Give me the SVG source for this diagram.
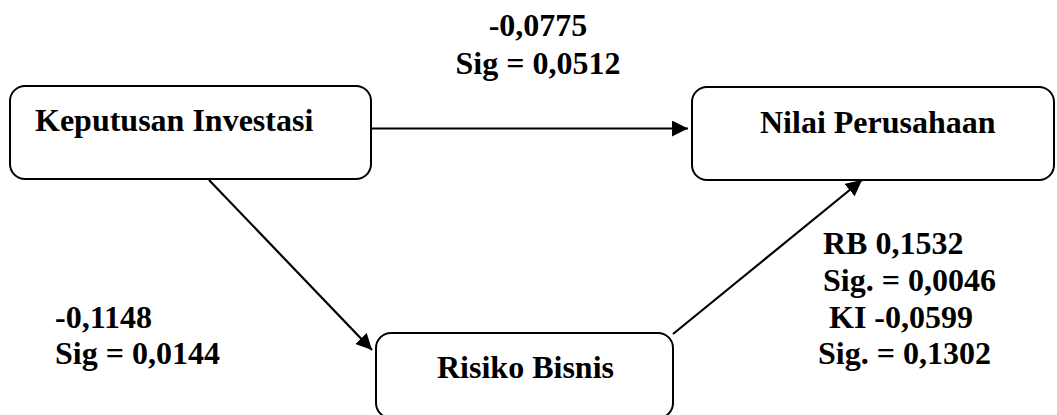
<svg xmlns="http://www.w3.org/2000/svg" width="1057" height="415" viewBox="0 0 1057 415">
  <style>
    .box { fill: #ffffff; stroke: #000000; stroke-width: 2; }
    .lbl { font-family: "Liberation Serif", "Times New Roman", serif; font-weight: bold; font-size: 32px; fill: #000000; }
    .edge { stroke: #000000; stroke-width: 2.2; fill: none; marker-end: url(#arrow); }
  </style>
  <defs>
    <marker id="arrow" markerWidth="16" markerHeight="16" viewBox="0 0 16 16" refX="16" refY="8" orient="auto" markerUnits="userSpaceOnUse">
      <path d="M0,0 L16,8 L0,16 Z" fill="#000000"/>
    </marker>
  </defs>

  <rect width="1057" height="415" fill="#ffffff"/>

  <g id="connectors">
    <line class="edge" x1="372" y1="128.5" x2="688" y2="128.5"/>
    <line class="edge" x1="209" y1="180" x2="372" y2="350"/>
    <line class="edge" x1="673" y1="334" x2="862" y2="180"/>
  </g>

  <g id="keputusan-investasi">
    <rect class="box" x="10" y="86" width="361" height="93" rx="15" ry="15"/>
    <text class="lbl" x="35" y="131">Keputusan Investasi</text>
  </g>

  <g id="nilai-perusahaan">
    <rect class="box" x="692" y="87" width="362" height="93" rx="15" ry="15"/>
    <text class="lbl" x="760" y="133">Nilai Perusahaan</text>
  </g>

  <g id="risiko-bisnis">
    <rect class="box" x="376" y="333" width="297" height="85" rx="15" ry="15"/>
    <text class="lbl" x="437" y="378">Risiko Bisnis</text>
  </g>

  <g id="edge-labels">
    <text class="lbl" x="538" y="36" text-anchor="middle">-0,0775</text>
    <text class="lbl" x="538" y="74" text-anchor="middle">Sig = 0,0512</text>

    <text class="lbl" x="55" y="328">-0,1148</text>
    <text class="lbl" x="55" y="364">Sig = 0,0144</text>

    <text class="lbl" x="823" y="254">RB 0,1532</text>
    <text class="lbl" x="823" y="291">Sig. = 0,0046</text>
    <text class="lbl" x="829" y="328">KI -0,0599</text>
    <text class="lbl" x="818" y="364">Sig. = 0,1302</text>
  </g>
</svg>
